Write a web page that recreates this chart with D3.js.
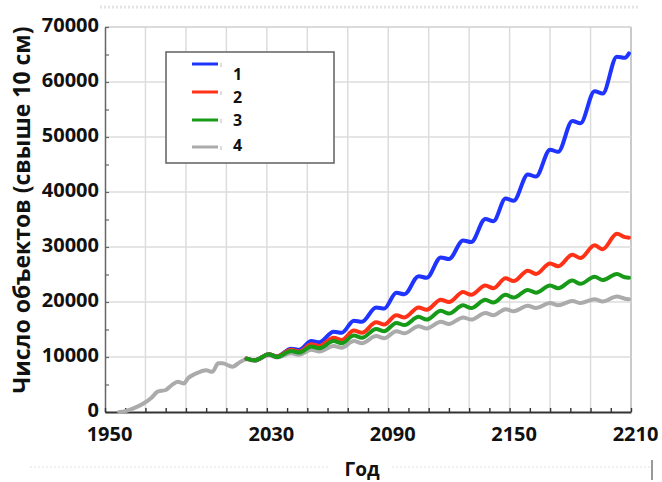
<!DOCTYPE html>
<html>
<head>
<meta charset="utf-8">
<script src="https://cdn.jsdelivr.net/npm/d3@7"></script>
<style>
  html, body { margin: 0; padding: 0; background: #fff; }
  svg { display: block; }
  text { font-family: "Open Sans", "Liberation Sans", sans-serif; font-weight: 700; fill: #111; }
</style>
</head>
<body>
<svg id="chart" width="662" height="482"></svg>
<script>
// Catalogued objects larger than 10 cm: history up to ~2020
const histYears = [1957, 1960, 1964, 1969, 1973, 1976, 1980, 1983, 1986, 1989, 1991, 1995, 2000, 2003, 2006, 2008, 2013, 2017];
const histCount = [0, 150, 650, 1550, 2600, 3700, 4000, 4900, 5500, 5200, 6100, 7000, 7600, 7300, 8850, 8850, 8250, 9150];

// Projection years (solar-cycle maxima and following minima)
const projYears = [2020, 2024, 2031, 2035, 2042, 2046, 2052, 2056, 2063, 2067, 2073, 2077, 2084, 2088, 2094, 2098,
                   2105, 2109, 2116, 2120, 2127, 2131, 2138, 2142, 2148, 2152, 2159, 2163, 2170, 2174, 2181, 2185,
                   2192, 2196, 2203, 2207, 2209];

// Scenario 1..4 projections
const scenario1 = [9700, 9400, 10500, 10100, 11500, 11300, 12900, 12700, 14600, 14400, 16600, 16400, 19000, 18800, 21700, 21400,
                   24700, 24400, 28100, 27800, 31200, 30900, 35100, 34700, 38800, 38400, 43200, 42800, 47700, 47300, 52900, 52500,
                   58300, 57900, 64600, 64400, 65200];
const scenario2 = [9700, 9400, 10500, 10100, 11300, 11000, 12300, 12000, 13500, 13100, 14800, 14400, 16300, 15900, 17600, 17200,
                   19000, 18600, 20400, 20000, 21800, 21300, 23000, 22500, 24300, 23800, 25700, 25100, 27000, 26500, 28600, 28000,
                   30300, 29600, 32400, 31800, 31700];
const scenario3 = [9700, 9400, 10500, 10000, 11100, 10800, 11900, 11600, 12900, 12500, 13900, 13500, 15100, 14700, 16200, 15800,
                   17300, 16800, 18400, 17900, 19400, 18900, 20400, 19900, 21300, 20800, 22200, 21700, 23000, 22500, 23900, 23300,
                   24600, 24000, 25100, 24500, 24400];
const scenario4 = [9600, 9300, 10300, 9900, 10700, 10400, 11300, 11000, 12000, 11700, 12900, 12500, 13800, 13400, 14700, 14300,
                   15600, 15200, 16400, 16000, 17200, 16800, 18000, 17600, 18700, 18300, 19300, 18900, 19800, 19400, 20200, 19800,
                   20500, 20100, 21000, 20600, 20500];

const seriesNames = ["1", "2", "3", "4"];
const seriesColors = ["#1f35ff", "#ff3116", "#179a17", "#ababab"];

const xTickLabels = [1950, 2030, 2090, 2150, 2210];
const yTickLabels = [0, 10000, 20000, 30000, 40000, 50000, 60000, 70000];

const xTitle = "Год";
const yTitle = "Число объектов (свыше 10 см)";

const svg = d3.select("#chart");
const x = d3.scaleLinear().domain([1950, 2210]).range([105, 631]);
const y = d3.scaleLinear().domain([0, 70000]).range([412, 27]);

// faint scan border lines
svg.append("line").attr("x1", 100).attr("x2", 640).attr("y1", 7).attr("y2", 7)
  .attr("stroke", "#e4e4e4").attr("stroke-width", 3).attr("stroke-dasharray", "2,2");
svg.append("line").attr("x1", 30).attr("x2", 330).attr("y1", 467).attr("y2", 467)
  .attr("stroke", "#e0e0e0").attr("stroke-width", 1).attr("stroke-dasharray", "2,2");
svg.append("line").attr("x1", 392).attr("x2", 650).attr("y1", 467).attr("y2", 467)
  .attr("stroke", "#e0e0e0").attr("stroke-width", 1).attr("stroke-dasharray", "2,2");
svg.append("line").attr("x1", 652).attr("x2", 652).attr("y1", 460).attr("y2", 480)
  .attr("stroke", "#333").attr("stroke-width", 1);

// grid
const grid = svg.append("g");
grid.selectAll(".vg").data(d3.range(1970, 2211, 20)).join("line")
  .attr("x1", d => x(d)).attr("x2", d => x(d)).attr("y1", y(0)).attr("y2", y(70000))
  .attr("stroke", d => d === 2210 ? "#b8b8b8" : "#dcdcdc").attr("stroke-width", 1.5);
grid.selectAll(".hg").data(d3.range(10000, 70001, 10000)).join("line")
  .attr("x1", x(1950)).attr("x2", x(2210)).attr("y1", d => y(d)).attr("y2", d => y(d))
  .attr("stroke", d => d === 70000 ? "#cfcfcf" : "#dcdcdc").attr("stroke-width", 1.5);

// axes
const yAxis = d3.axisLeft(y)
  .tickValues(d3.range(0, 70001, 5000))
  .tickSizeInner(-4).tickSizeOuter(0).tickPadding(6)
  .tickFormat(d => yTickLabels.includes(d) ? String(d) : "");
const gy = svg.append("g").attr("transform", `translate(${x(1950)},0)`).call(yAxis);
gy.select(".domain").attr("stroke", "#666").attr("stroke-width", 1.5);
gy.selectAll(".tick line").attr("stroke", "#666").attr("stroke-width", 1.2);
gy.selectAll(".tick text").attr("font-size", 20).attr("font-family", "Open Sans").attr("font-weight", 700)
  .attr("fill", "#111").attr("dy", "0.22em");

const xAxis = d3.axisBottom(x)
  .tickValues(d3.range(1950, 2211, 10))
  .tickSizeInner(-4).tickSizeOuter(0).tickPadding(15)
  .tickFormat(d => xTickLabels.includes(d) ? String(d) : "");
const gx = svg.append("g").attr("transform", `translate(0,${y(0)})`).call(xAxis);
gx.select(".domain").attr("stroke", "#333").attr("stroke-width", 1.8);
gx.selectAll(".tick line").attr("stroke", "#333").attr("stroke-width", 1.4);
gx.selectAll(".tick text").attr("font-size", 20).attr("font-family", "Open Sans").attr("font-weight", 700)
  .attr("fill", "#111").attr("dx", 4);

// axis titles
svg.append("text").attr("x", 362).attr("y", 476).attr("text-anchor", "middle")
  .attr("font-size", 19).text(xTitle);
svg.append("text").attr("transform", "translate(30,210) rotate(-90)").attr("text-anchor", "middle")
  .attr("font-size", 23).text(yTitle);

// series
const line = d3.line().x(d => x(d[0])).y(d => y(d[1])).curve(d3.curveMonotoneX);
const pairs = (ys, vs) => ys.map((yr, i) => [yr, vs[i]]);
const series = [
  { name: "1", color: seriesColors[0], pts: pairs(projYears, scenario1) },
  { name: "2", color: seriesColors[1], pts: pairs(projYears, scenario2) },
  { name: "3", color: seriesColors[2], pts: pairs(projYears, scenario3) },
  { name: "4", color: seriesColors[3], pts: pairs(histYears, histCount).concat(pairs(projYears, scenario4)) }
];
// draw order: 4 underneath, then 1, 2, 3 on top where they coincide
const drawOrder = [3, 0, 1, 2];
svg.append("g").selectAll("path").data(drawOrder.map(i => series[i])).join("path")
  .attr("d", d => line(d.pts))
  .attr("fill", "none").attr("stroke", d => d.color)
  .attr("stroke-width", 4).attr("stroke-linejoin", "round").attr("stroke-linecap", "round");

// legend
const lg = svg.append("g");
lg.append("rect").attr("x", 166).attr("y", 52).attr("width", 168).attr("height", 111)
  .attr("fill", "#fff").attr("stroke", "#6a6a6a").attr("stroke-width", 1.6);
const legendLineY = [64, 92, 120, 147];
const legendTextY = [80, 103, 126, 151];
seriesNames.forEach((n, i) => {
  lg.append("line").attr("x1", 192).attr("x2", 218).attr("y1", legendLineY[i]).attr("y2", legendLineY[i])
    .attr("stroke", seriesColors[i]).attr("stroke-width", 3);
  lg.append("line").attr("x1", 221).attr("x2", 221).attr("y1", legendLineY[i] - 1).attr("y2", legendLineY[i] + 3)
    .attr("stroke", "#bbb").attr("stroke-width", 1);
  lg.append("text").attr("x", 233).attr("y", legendTextY[i]).attr("font-size", 16).text(n);
});
</script>
</body>
</html>
